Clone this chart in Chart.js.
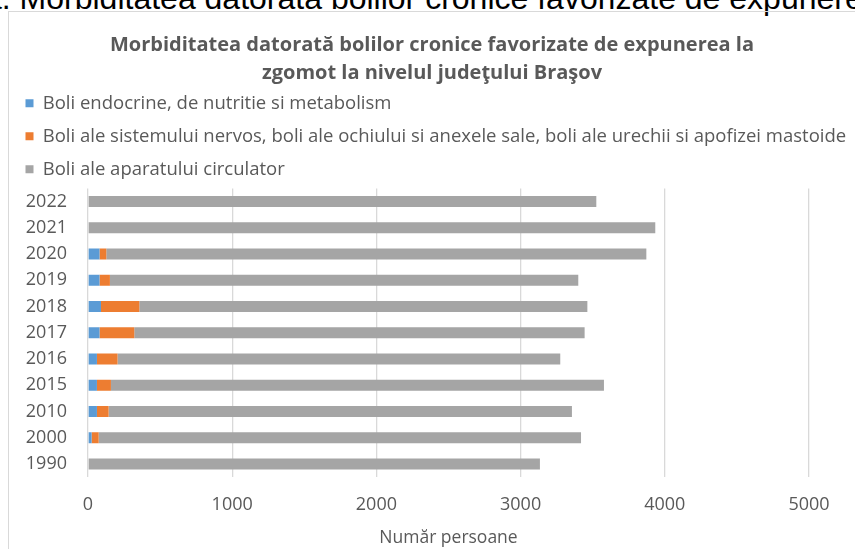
<!DOCTYPE html>
<html>
<head>
<meta charset="utf-8">
<script src="https://cdn.jsdelivr.net/npm/chart.js@4/dist/chart.umd.min.js"></script>
<style>
  html, body { margin: 0; padding: 0; width: 855px; height: 549px; overflow: hidden; background: #fff; }
  #header { position: absolute; left: -16px; top: -20px; font: 32px "Liberation Sans", Arial, sans-serif; line-height: 36px; color: #000; white-space: nowrap; }
  #frame { position: absolute; left: 8px; top: 11px; width: 900px; height: 600px; border: 1px solid #d9d9d9; }
  #wrap { position: absolute; left: 9px; top: 12px; width: 846px; height: 545px; }
</style>
</head>
<body>
<div id="header">a. Morbiditatea datorată bolilor cronice favorizate de expunerea la zgomot</div>
<div id="frame"></div>
<div id="wrap"><canvas id="c" width="846" height="545"></canvas></div>
<script>
const years = ['1990','2000','2010','2015','2016','2017','2018','2019','2020','2021','2022'];
const endocrine = [0, 25, 62, 62, 62, 80, 90, 80, 80, 0, 0];
const nervos = [0, 49, 81, 97, 143, 241, 266, 72, 47, 0, 0];
const circulator = [3134, 3345, 3213, 3419, 3070, 3123, 3107, 3248, 3745, 3934, 3525];
const xTicks = [0, 1000, 2000, 3000, 4000, 5000];
const seriesNames = [
  'Boli endocrine, de nutritie si metabolism',
  'Boli ale sistemului nervos, boli ale ochiului si anexele sale, boli ale urechii si apofizei mastoide',
  'Boli ale aparatului circulator'
];
const titleLines = ['Morbiditatea datorată bolilor cronice favorizate de expunerea la', 'zgomot la nivelul judeţului Braşov'];
const axisTitle = 'Număr persoane';

const txt = '#595959';
const ds = (label, data, color) => ({
  label, data, backgroundColor: color, borderWidth: 0,
  barPercentage: 0.42, categoryPercentage: 1.0
});

new Chart(document.getElementById('c'), {
  type: 'bar',
  data: {
    labels: years,
    datasets: [
      ds(seriesNames[0], endocrine, '#5B9BD5'),
      ds(seriesNames[1], nervos, '#ED7D31'),
      ds(seriesNames[2], circulator, '#A5A5A5')
    ]
  },
  options: {
    indexAxis: 'y',
    responsive: false,
    animation: false,
    layout: { padding: { left: 2, right: 2, top: 0, bottom: 8 } },
    plugins: {
      tooltip: { enabled: false },
      title: {
        display: true,
        text: titleLines,
        color: txt,
        font: { family: '"Open Sans", sans-serif', size: 20, weight: 'bold', lineHeight: 1.4 },
        padding: { top: 19, bottom: -7.5 }
      },
      legend: {
        display: true,
        position: 'top',
        align: 'start',
        labels: {
          color: txt,
          boxWidth: 8,
          boxHeight: 8,
          padding: 14.5,
          font: { family: '"Open Sans", sans-serif', size: 18.5 }
        }
      }
    },
    scales: {
      x: {
        stacked: true,
        min: 0,
        max: 5000,
        afterBuildTicks: (s) => { s.ticks = xTicks.map(v => ({ value: v })); },
        afterFit: (s) => { s.height = 72; },
        grid: { color: '#d9d9d9', lineWidth: 1.3, drawTicks: false },
        border: { display: false },
        ticks: { color: txt, padding: 17, font: { family: '"Open Sans", sans-serif', size: 18 }, callback: (v) => String(v) },
        title: {
          display: true, text: axisTitle, color: txt,
          font: { family: '"Open Sans", sans-serif', size: 17.5 },
          padding: { top: 0, bottom: 0 }
        }
      },
      y: {
        stacked: true,
        reverse: true,
        afterFit: (s) => { s.width = 77; },
        grid: { display: false, drawTicks: false },
        border: { display: false },
        ticks: { color: txt, padding: 21, font: { family: '"Open Sans", sans-serif', size: 18 } }
      },
      yRight: {
        type: 'linear',
        position: 'right',
        display: true,
        afterFit: (s) => { s.width = 44; },
        grid: { display: false, drawTicks: false },
        border: { display: false },
        ticks: { display: false }
      }
    }
  }
});
</script>
</body>
</html>
